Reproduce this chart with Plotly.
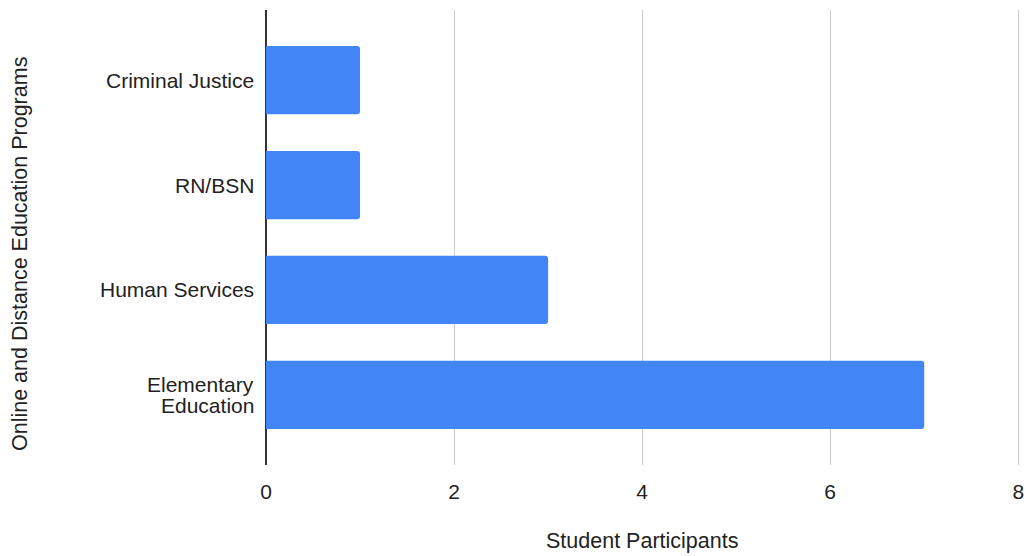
import plotly.graph_objects as go

# Program enrollment data
programs = ["Elementary<br>Education", "Human Services", "RN/BSN", "Criminal Justice"]
participants = [7, 3, 1, 1]
x_ticks = [0, 2, 4, 6, 8]

FONT = "Liberation Sans, Arial, sans-serif"
TEXT = "#222222"

W, H = 1026, 556
X_MAX = 8.04
ML, MT, MB = 266, 10, 91
# right margin chosen so the x=8 gridline lands at pixel 1018
MR = round(W - ML - (1018 - ML) * X_MAX / 8)

fig = go.Figure(
    go.Bar(
        x=participants,
        y=programs,
        orientation="h",
        marker=dict(color="#4285F4", cornerradius=3, line=dict(width=0)),
        hoverinfo="x+y",
    )
)

fig.update_layout(
    width=W,
    height=H,
    margin=dict(l=ML, r=MR, t=MT, b=MB, autoexpand=False),
    paper_bgcolor="white",
    plot_bgcolor="white",
    bargap=0.35,
    showlegend=False,
    font=dict(family=FONT, size=21, color=TEXT),
    xaxis=dict(
        range=[0, X_MAX],
        tickvals=x_ticks,
        ticktext=[str(v) for v in x_ticks],
        showgrid=True,
        gridcolor="#cccccc",
        gridwidth=1,
        zeroline=True,
        zerolinecolor="#333333",
        zerolinewidth=1.5,
        showline=False,
        ticks="",
        ticklabelstandoff=12,
        automargin=False,
        tickfont=dict(family=FONT, size=21, color=TEXT),
        fixedrange=True,
    ),
    yaxis=dict(
        categoryorder="array",
        categoryarray=programs,
        range=[-0.667, 3.667],
        showgrid=False,
        zeroline=False,
        showline=False,
        ticks="",
        showticklabels=False,
        automargin=False,
        fixedrange=True,
    ),
)

# Category labels, right-aligned against the axis, with tight line spacing
LINE_GAP = 21
for name in programs:
    lines = name.split("<br>")
    n = len(lines)
    for i, line in enumerate(lines):
        fig.add_annotation(
            text=line,
            x=0, xref="paper", xanchor="right", xshift=-10,
            y=name, yref="y", yanchor="middle",
            yshift=((n - 1) / 2 - i) * LINE_GAP,
            showarrow=False,
            font=dict(family=FONT, size=21, color=TEXT),
        )

# Axis titles, placed in pixel terms and converted to paper coordinates
plot_w = W - ML - MR
plot_h = H - MT - MB


def px_to_paper(px, py):
    return (px - ML) / plot_w, (H - MB - py) / plot_h


tx, ty = px_to_paper(642, 541)
fig.add_annotation(
    text="Student Participants",
    x=tx, y=ty, xref="paper", yref="paper",
    xanchor="center", yanchor="middle",
    showarrow=False,
    font=dict(family=FONT, size=21.5, color=TEXT),
)
tx, ty = px_to_paper(20, 254)
fig.add_annotation(
    text="Online and Distance Education Programs",
    x=tx, y=ty, xref="paper", yref="paper",
    xanchor="center", yanchor="middle",
    showarrow=False, textangle=-90,
    font=dict(family=FONT, size=21.5, color=TEXT),
)

fig.write_html("out.html")
